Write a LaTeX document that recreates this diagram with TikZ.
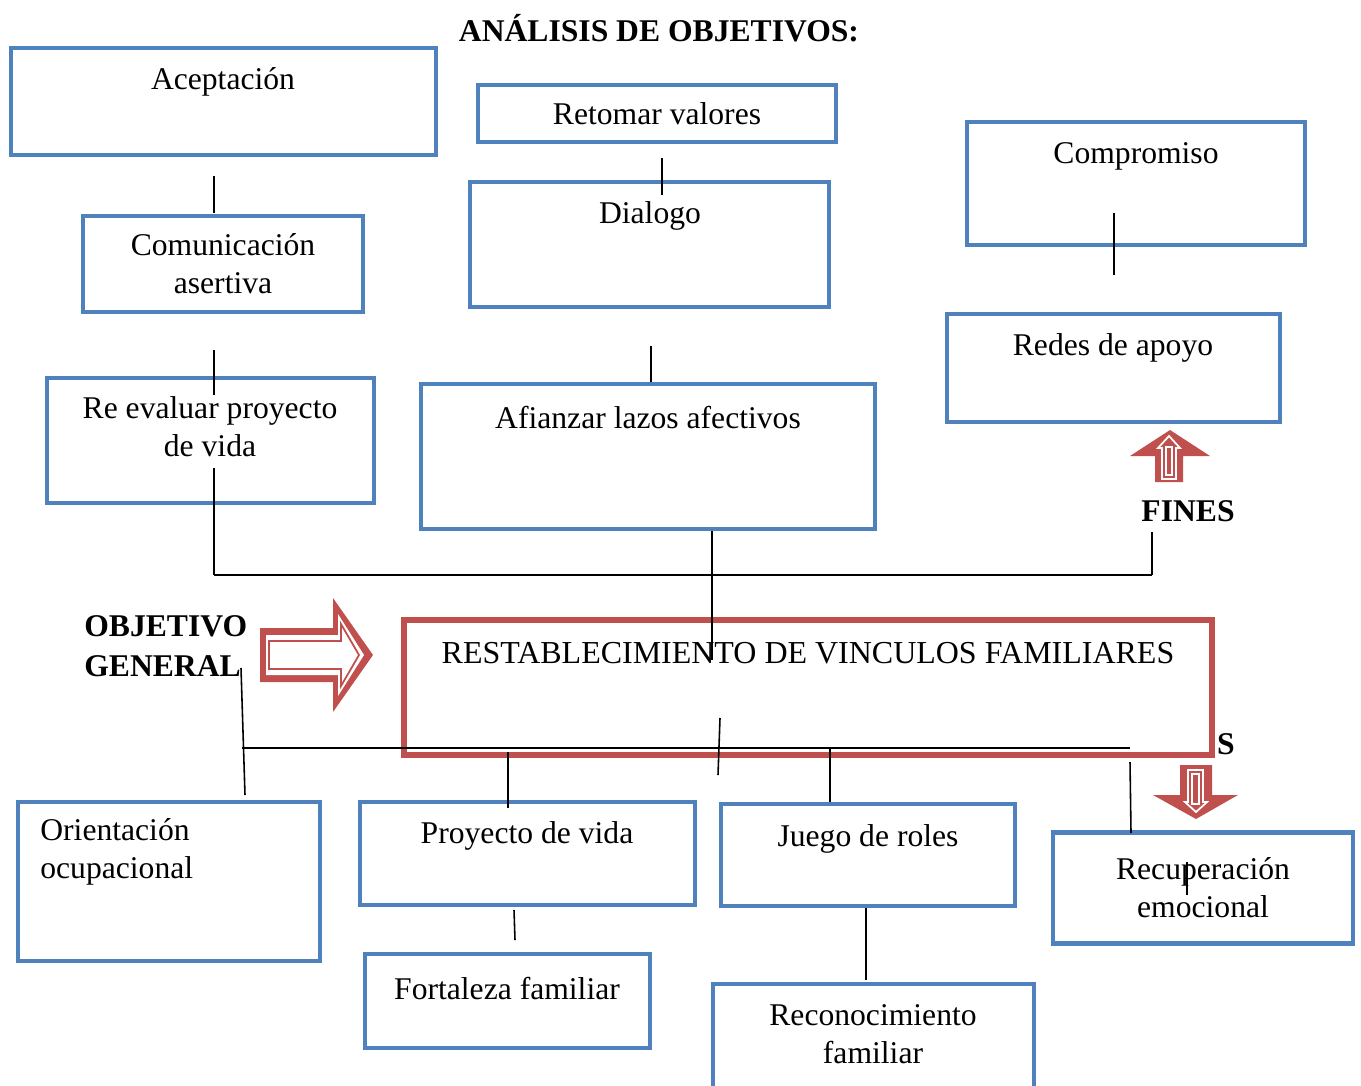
\documentclass[tikz,border=0pt]{standalone}
\usepackage{fontspec}
\setmainfont{Liberation Serif}
\usetikzlibrary{positioning}
\definecolor{boxblue}{HTML}{4F81BD}
\definecolor{boxred}{HTML}{C0504D}

\begin{document}
\begin{tikzpicture}[x=0.02cm, y=-0.02cm,
    box/.style 2 args={draw=boxblue, line width=2.5pt, inner sep=0pt, minimum width=#1*0.02cm, minimum height=#2*0.02cm},
    txt/.style={font=\fontsize{18}{21.5}\selectfont, align=center, inner sep=0pt},
    bold/.style={font=\fontsize{18}{23}\selectfont\bfseries, align=left, inner sep=0pt},
    conn/.style={line width=0.9pt, black}
]
\useasboundingbox (0,0) rectangle (1361,1085);

% Title
\node[bold] (title) at (659,28) {ANÁLISIS DE OBJETIVOS:};

% Upper boxes (fines)
\node[box={425}{107}] (acep) at (223.5,101.5) {};
\node[txt] (acepT) at (223,82) {Aceptación};
\node[box={358}{57}, txt] (reto) at (657,113.5) {Retomar valores};
\node[box={338}{123}] (comp) at (1136,183.5) {};
\node[txt] (compT) at (1136,156) {Compromiso};
\node[box={280}{96}, txt] (comu) at (223,264) {Comunicación\\asertiva};
\node[box={359}{125}] (dial) at (649.5,244.5) {};
\node[txt] (dialT) at (650,216) {Dialogo};
\node[box={333}{108}] (rede) at (1113.5,368) {};
\node[txt] (redeT) at (1113,348) {Redes de apoyo};
\node[box={327}{125}] (reev) at (210.5,440.5) {};
\node[txt] (reevT) at (210,427) {Re evaluar proyecto\\de vida};
\node[box={454}{145}] (afia) at (648,456.5) {};
\node[txt] (afiaT) at (648,418) {Afianzar lazos afectivos};

% Main objective
\node[box={808}{135}, draw=boxred, line width=3pt] (rest) at (808,687.5) {};
\node[txt, font=\fontsize{18.2}{21.5}\selectfont] (restT) at (808,653) {RESTABLECIMIENTO DE VINCULOS FAMILIARES};
\node[bold, anchor=west] (objgen) at (84,646) {OBJETIVO\\GENERAL};

% Lower boxes (medios)
\node[box={302}{159}] (orie) at (169,881.5) {};
\node[txt, align=left, anchor=west] (orieT) at (40,852) {Orientación\\ocupacional};
\node[box={335}{103}] (proy) at (527.5,853.5) {};
\node[txt] (proyT) at (527,836) {Proyecto de vida};
\node[box={294}{102}] (jueg) at (868,855) {};
\node[txt] (juegT) at (868,839) {Juego de roles};
\node[box={300}{111}, txt] (recu) at (1203,888) {Recuperación\\emocional};
\node[box={285}{94}] (fort) at (507.5,1001) {};
\node[txt] (fortT) at (507,989) {Fortaleza familiar};
\node[box={321}{108}] (reco) at (873.5,1038) {};
\node[txt] (recoT) at (873,1034) {Reconocimiento\\familiar};

% Block arrows
\fill[boxred] (260,628) -- (333,628) -- (333,598) -- (373,655) -- (333,712) -- (333,682) -- (260,682) -- cycle;
\fill[white] (266,635) -- (338,635) -- (338,614) -- (364,655) -- (338,696) -- (338,675) -- (266,675) -- cycle;
\draw[boxred, line width=1pt] (269,641) -- (341,641) -- (341,624) -- (359,655) -- (341,686) -- (341,669) -- (269,669) -- cycle;

\fill[boxred] (1155,482) -- (1155,456) -- (1130,456) -- (1170,430) -- (1210,456) -- (1183,456) -- (1183,482) -- cycle;
\draw[white, line width=1pt] (1162,479) -- (1162,448) -- (1158,448) -- (1169,436) -- (1180,448) -- (1176,448) -- (1176,479) -- cycle;
\draw[white, line width=0.6pt] (1166,475) -- (1166,447) -- (1172,447) -- (1172,475) -- cycle;
\node[bold] (fines) at (1188,511) {FINES};

\fill[boxred] (1180,765) -- (1212,765) -- (1212,795) -- (1238,795) -- (1196,819) -- (1153,795) -- (1180,795) -- cycle;
\draw[white, line width=1pt] (1188,770) -- (1203,770) -- (1203,802) -- (1207,802) -- (1196,812) -- (1185,802) -- (1188,802) -- cycle;
\draw[white, line width=0.6pt] (1192,774) -- (1199,774) -- (1199,804) -- (1192,804) -- cycle;
\node[bold] (sfx) at (1226,744) {S};

% Bars
\coordinate (topL) at (214,575);
\coordinate (topR) at (1152,575);
\coordinate (lowL) at (242,748);
\coordinate (lowR) at (1130,748);
\draw[conn] (topL) -- (topR);
\draw[conn] (lowL) -- (lowR);

% Connector strokes
\draw[conn] (214,176) -- (214,213);
\draw[conn] (214,350) -- (214,395);
\draw[conn] (214,468) -- (topL);
\draw[conn] (662,158) -- (662,195);
\draw[conn] (651,346) -- (651,382);
\draw[conn] (1114,213) -- (1114,275);
\draw[conn] (712,531) -- (712,660);
\draw[conn] (1152,532) -- (topR);
\draw[conn] (241,668) -- (245,795);
\draw[conn] (720,718) -- (718,775);
\draw[conn] (508,752) -- (508,808);
\draw[conn] (830,748) -- (830,802);
\draw[conn] (1130,762) -- (1131,833);
\draw[conn] (514,910) -- (515,940);
\draw[conn] (866,908) -- (866,980);
\draw[conn] (1187,862) -- (1187,895);

\end{tikzpicture}
\end{document}
